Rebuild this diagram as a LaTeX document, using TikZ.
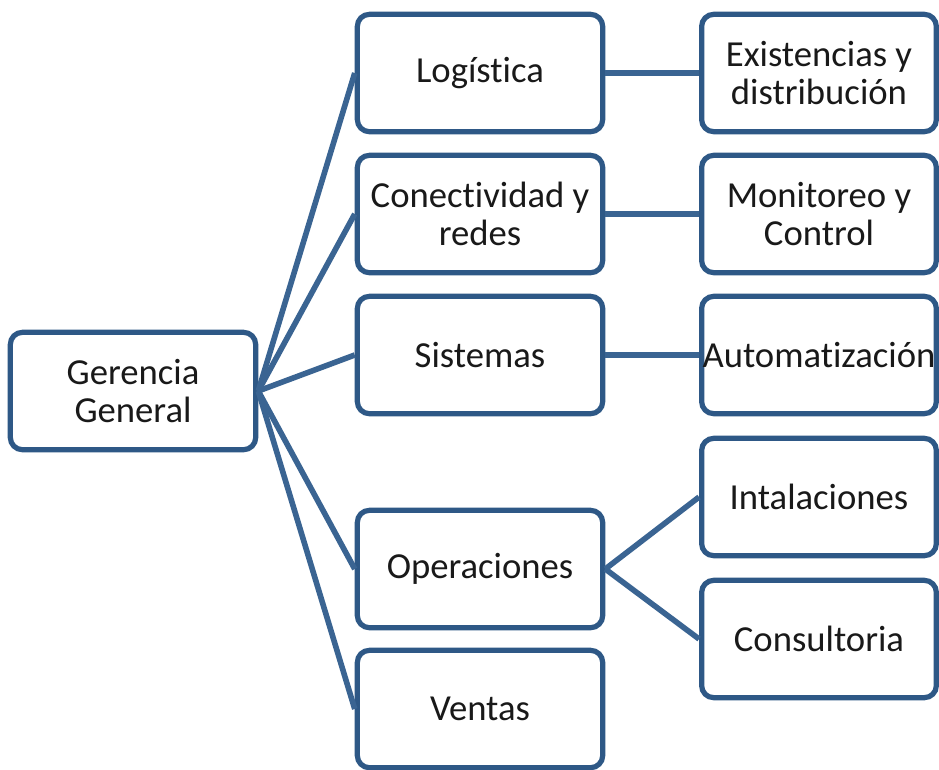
\documentclass[tikz,border=0pt]{standalone}
\usepackage{fontspec}
\setmainfont{Carlito}[Ligatures=NoCommon]
\definecolor{boxblue}{RGB}{46,88,134}
\definecolor{linkblue}{RGB}{58,100,146}
\definecolor{txtgray}{RGB}{25,25,25}
\tikzset{
  unit/.style={draw=boxblue, line width=3.9pt, rounded corners=9pt, fill=white,
    minimum width=184pt, minimum height=88pt, align=center, text=txtgray,
    font=\fontsize{27.5pt}{29pt}\selectfont},
  leaf/.style={unit, minimum width=176pt, inner xsep=0pt},
  link/.style={draw=linkblue, line width=4.2pt}
}
\begin{document}
\begin{tikzpicture}[x=0.75pt, y=-0.75pt]
  % page frame
  \useasboundingbox[fill=white] (0,0) rectangle (939,769);

  % top of the chart
  \node[unit] (gerencia) at (133,391) {Gerencia\\General};

  % areas
  \node[unit] (logistica)    at (480,73)  {Logística};
  \node[unit] (conectividad) at (480,214) {Conectividad y\\redes};
  \node[unit] (sistemas)     at (480,355) {Sistemas};
  \node[unit] (operaciones)  at (480,569) {Operaciones};
  \node[unit] (ventas)       at (480,709) {Ventas};

  % tasks of each area
  \node[leaf] (existencias)    at (819,73)  {Existencias y\\distribución};
  \node[leaf] (monitoreo)      at (819,214) {Monitoreo y\\Control};
  \node[leaf] (automatizacion) at (819,355) {Automatización};
  \node[leaf] (intalaciones)   at (819,497) {Intalaciones};
  \node[leaf] (consultoria)    at (819,639) {Consultoria};

  % links
  \foreach \area in {logistica,conectividad,sistemas,operaciones,ventas} {
    \draw[link] (gerencia.east) -- (\area.west);
  }
  \draw[link] (logistica.east) -- (existencias.west);
  \draw[link] (conectividad.east) -- (monitoreo.west);
  \draw[link] (sistemas.east) -- (automatizacion.west);
  \draw[link] (operaciones.east) -- (intalaciones.west);
  \draw[link] (operaciones.east) -- (consultoria.west);
\end{tikzpicture}
\end{document}
